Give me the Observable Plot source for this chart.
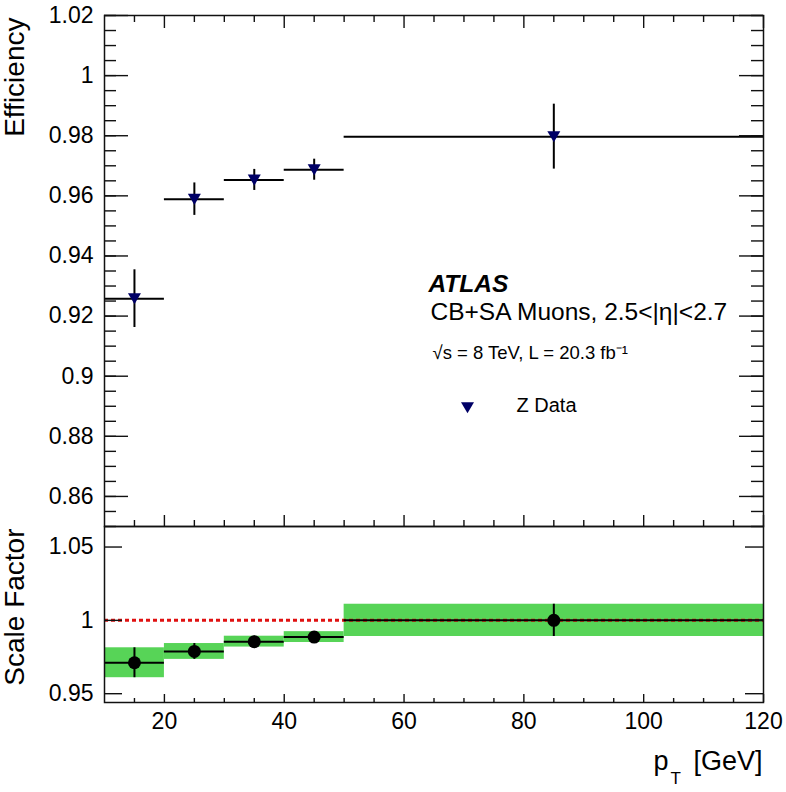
<!DOCTYPE html>
<html><head><meta charset="utf-8">
<script src="https://cdn.jsdelivr.net/npm/d3@7"></script>
<script src="https://cdn.jsdelivr.net/npm/@observablehq/plot@0.6"></script>
<style>
body{margin:0;background:#fff;}
#wrap{position:relative;width:786px;height:792px;background:#fff;}
#wrap svg{position:absolute;left:0;top:0;background:transparent;}
</style></head><body><div id="wrap"></div>
<script>
// ---- data ----
const binLo = [10, 20, 30, 40, 50];
const binHi = [20, 30, 40, 50, 120];
const ptCenter = [15, 25, 35, 45, 85];
const effValue = [0.9258, 0.9589, 0.9653, 0.9687, 0.9797];
const effError = [0.0096, 0.0054, 0.0035, 0.0035, 0.0108];
const sfValue = [0.9711, 0.9788, 0.9855, 0.9886, 1.0];
const sfError = [0.0102, 0.0054, 0.0037, 0.0037, 0.0110];
const sfReference = [1];

// ---- ticks ----
const effTicksMajor = [0.86, 0.88, 0.9, 0.92, 0.94, 0.96, 0.98, 1, 1.02];
const effTicksMinor = d3.range(0, 35).map(i => 0.85 + i * 0.005);
const sfTicksMajor = [0.95, 1, 1.05];
const ptTicksMajor = [20, 40, 60, 80, 100, 120];
const ptTicksMinor = [15, 25, 30, 35, 45, 50, 55, 65, 70, 75, 85, 90, 95, 105, 110, 115];

// ---- text ----
const yTitleTop = "Efficiency";
const yTitleBottom = "Scale Factor";
const xTitleMain = "[GeV]";
const legendAtlas = "ATLAS";
const legendSel = "CB+SA Muons, 2.5<|η|<2.7";
const legendLumi = "√s = 8 TeV, L = 20.3 fb⁻¹";
const legendEntry = "Z Data";

const rows = binLo.map((lo, i) => ({lo, hi: binHi[i], c: ptCenter[i], eff: effValue[i], effErr: effError[i], sf: sfValue[i], sfErr: sfError[i]}));

const FONT = "'Liberation Sans', Arial, Helvetica, sans-serif";
const NAVY = "#000066";
const GREEN = "#57d457";
const W = 786, ML = 104, MR = 23;
const FW = W - ML - MR;
const TOP_T = 15, SPLIT = 526, BOT_B = 702;
const FH_TOP = SPLIT - TOP_T, FH_BOT = BOT_B - SPLIT;
const X_DOM = [10, 120], Y_TOP = [0.85, 1.02], Y_BOT = [0.944, 1.064];

const triDown = {draw(ctx, size) {
  const r = Math.sqrt(size / Math.PI);
  ctx.moveTo(-r, -0.82 * r); ctx.lineTo(r, -0.82 * r); ctx.lineTo(0, 0.88 * r); ctx.closePath();
}};
const fmt = d => String(d);
const TK = {stroke: "#111", strokeWidth: 1.4};

// inward ticks: pixel length converted to data units of the panel's scales
function tickMarks(yDom, fh, yMaj, yMin, yLenMaj, yLenMin, xTop, xBot) {
  const kx = (X_DOM[1] - X_DOM[0]) / FW;
  const ky = (yDom[1] - yDom[0]) / fh;
  const out = [];
  const yt = (vals, len) => {
    out.push(Plot.ruleY(vals, {y: d => d, x1: X_DOM[0], x2: X_DOM[0] + len * kx, ...TK}));
    out.push(Plot.ruleY(vals, {y: d => d, x1: X_DOM[1] - len * kx, x2: X_DOM[1], ...TK}));
  };
  yt(yMaj, yLenMaj);
  if (yMin) yt(yMin, yLenMin);
  if (xTop) {
    out.push(Plot.ruleX(ptTicksMajor, {x: d => d, y1: yDom[1], y2: yDom[1] - xTop[0] * ky, ...TK}));
    out.push(Plot.ruleX(ptTicksMinor, {x: d => d, y1: yDom[1], y2: yDom[1] - xTop[1] * ky, ...TK}));
  }
  out.push(Plot.ruleX(ptTicksMajor, {x: d => d, y1: yDom[0], y2: yDom[0] + xBot[0] * ky, ...TK}));
  out.push(Plot.ruleX(ptTicksMinor, {x: d => d, y1: yDom[0], y2: yDom[0] + xBot[1] * ky, ...TK}));
  return out;
}

const topPlot = Plot.plot({
  width: W, height: SPLIT + 1,
  marginTop: TOP_T, marginBottom: 1, marginLeft: ML, marginRight: MR,
  style: {fontFamily: FONT, background: "transparent", overflow: "visible"},
  x: {domain: X_DOM, axis: null},
  y: {domain: Y_TOP, axis: null},
  marks: [
    Plot.ruleY(rows, {y: "eff", x1: "lo", x2: "hi", stroke: "#000", strokeWidth: 2}),
    Plot.ruleX(rows, {x: "c", y1: d => d.eff - d.effErr, y2: d => d.eff + d.effErr, stroke: "#000", strokeWidth: 2}),
    Plot.dot(rows, {x: "c", y: "eff", symbol: triDown, r: 6.5, fill: NAVY, stroke: "none"}),
    ...tickMarks(Y_TOP, FH_TOP, effTicksMajor, effTicksMinor, 24, 12, [13, 7], [11, 6]),
    Plot.frame({stroke: "#111", strokeWidth: 1.5}),
    Plot.axisY(effTicksMajor, {anchor: "left", tickSize: 0, tickPadding: 11, tickFormat: fmt, label: null, fill: "#000", fontSize: 23}),
    Plot.text([yTitleTop], {text: d => d, frameAnchor: "top-left", dx: -89, dy: 2, rotate: -90, textAnchor: "end", lineAnchor: "middle", fontSize: 28, fill: "#000"}),
    Plot.text([legendAtlas], {text: d => d, frameAnchor: "top-left", dx: 324, dy: 268.5, textAnchor: "start", lineAnchor: "middle", fontSize: 24.5, fontWeight: "bold", fontStyle: "italic", fill: "#000"}),
    Plot.text([legendSel], {text: d => d, frameAnchor: "top-left", dx: 326, dy: 296.5, textAnchor: "start", lineAnchor: "middle", fontSize: 24.5, fill: "#000"}),
    Plot.text([legendLumi], {text: d => d, frameAnchor: "top-left", dx: 328, dy: 338, textAnchor: "start", lineAnchor: "middle", fontSize: 18.5, fill: "#000"}),
    Plot.dot([legendEntry], {frameAnchor: "top-left", dx: 363, dy: 392, symbol: triDown, r: 6.5, fill: NAVY, stroke: "none"}),
    Plot.text([legendEntry], {text: d => d, frameAnchor: "top-left", dx: 412, dy: 390.5, textAnchor: "start", lineAnchor: "middle", fontSize: 20, fill: "#000"})
  ]
});

const bottomPlot = Plot.plot({
  width: W, height: 792,
  marginTop: SPLIT, marginBottom: 792 - BOT_B, marginLeft: ML, marginRight: MR,
  style: {fontFamily: FONT, background: "transparent", overflow: "visible"},
  x: {domain: X_DOM, axis: null},
  y: {domain: Y_BOT, axis: null},
  marks: [
    Plot.rect(rows, {x1: "lo", x2: "hi", y1: d => d.sf - d.sfErr, y2: d => d.sf + d.sfErr, fill: GREEN}),
    Plot.ruleY(sfReference, {stroke: "#e01010", strokeWidth: 3, strokeDasharray: "4,3"}),
    Plot.ruleY(rows, {y: "sf", x1: "lo", x2: "hi", stroke: "#000", strokeWidth: 2}),
    Plot.ruleX(rows, {x: "c", y1: d => d.sf - d.sfErr, y2: d => d.sf + d.sfErr, stroke: "#000", strokeWidth: 2}),
    Plot.dot(rows, {x: "c", y: "sf", r: 6.5, fill: "#000", stroke: "none"}),
    ...tickMarks(Y_BOT, FH_BOT, sfTicksMajor, null, 18, 0, null, [8, 4]),
    Plot.frame({stroke: "#111", strokeWidth: 1.5}),
    Plot.axisY(sfTicksMajor, {anchor: "left", tickSize: 0, tickPadding: 11, tickFormat: fmt, label: null, fill: "#000", fontSize: 23}),
    Plot.axisX(ptTicksMajor, {anchor: "bottom", tickSize: 0, tickPadding: 10, tickFormat: fmt, label: null, fill: "#000", fontSize: 23}),
    Plot.text([yTitleBottom], {text: d => d, frameAnchor: "top-left", dx: -89, dy: 2, rotate: -90, textAnchor: "end", lineAnchor: "middle", fontSize: 28, fill: "#000"}),
    Plot.text([xTitleMain], {text: d => d, frameAnchor: "bottom-right", dx: -1, dy: 67, textAnchor: "end", lineAnchor: "bottom", fontSize: 27, fill: "#000"}),
    Plot.text(["p"], {text: d => d, frameAnchor: "bottom-right", dx: -110, dy: 67, textAnchor: "start", lineAnchor: "bottom", fontSize: 27, fill: "#000"}),
    Plot.text(["T"], {text: d => d, frameAnchor: "bottom-right", dx: -93, dy: 81, textAnchor: "start", lineAnchor: "bottom", fontSize: 17, fill: "#000"})
  ]
});

const wrap = document.getElementById("wrap");
wrap.appendChild(bottomPlot);
wrap.appendChild(topPlot);
</script>
</body></html>
